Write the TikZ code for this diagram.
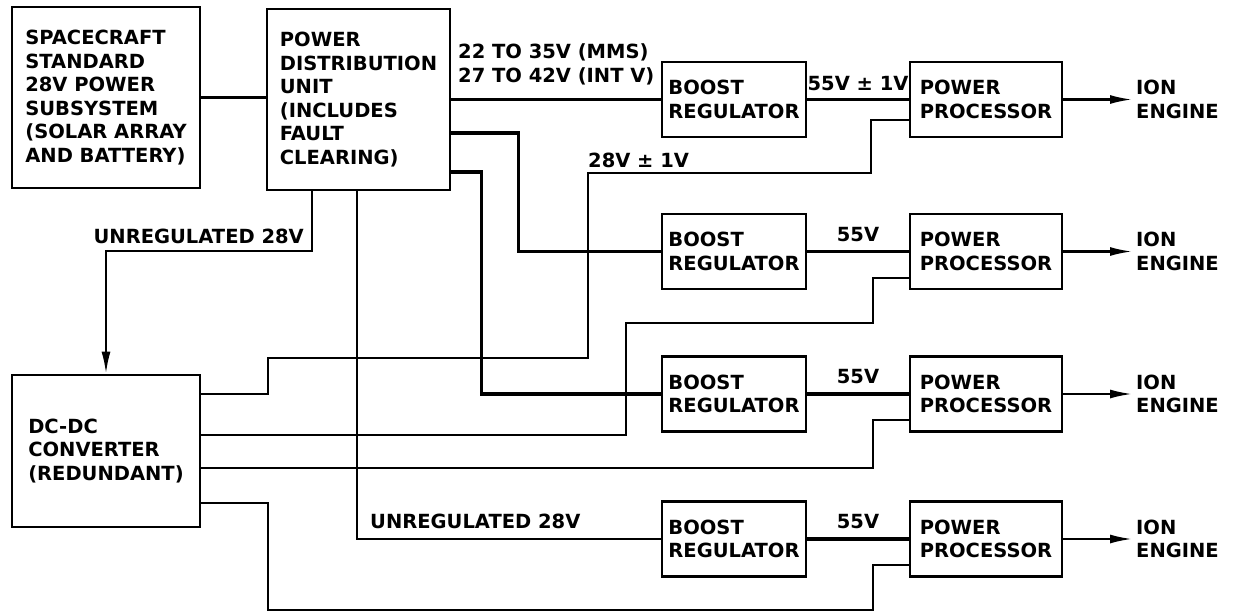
\documentclass[tikz,border=0pt]{standalone}
\usepackage{fontspec}
\setmainfont{DejaVu Sans}
\usetikzlibrary{arrows.meta,calc}
\begin{document}
\begin{tikzpicture}[x=1pt,y=-1pt,
  txt/.style={font=\fontsize{19.5}{23.5}\selectfont\bfseries},
  box/.style={txt,draw,line width=2.8pt,align=left,inner sep=0pt},
  lbl/.style={txt,inner sep=0pt,align=left},
  pwr/.style={line width=3.6pt},
  sig/.style={line width=2.1pt},
  arr/.style={line width=2.1pt,-{Latex[length=22pt,width=9pt]}}]
\useasboundingbox (0,0) rectangle (1240,613);
\fill[white] (0,0) rectangle (1240,613);

% main boxes
\node[box,minimum width=188pt,minimum height=181pt] (sc) at (106,97.5)
  {SPACECRAFT\\STANDARD\\28V POWER\\SUBSYSTEM\\(SOLAR ARRAY\\AND BATTERY)};
\node[box,minimum width=183pt,minimum height=181pt] (pdu) at (358.5,99.5)
  {POWER\\DISTRIBUTION\\UNIT\\(INCLUDES\\FAULT\\CLEARING)};
\node[box,minimum width=188pt,minimum height=152pt] (dc) at (106,451)
  {DC-DC\\CONVERTER\\(REDUNDANT)};

% rows of boost regulator, power processor, ion engine
\foreach \i/\y in {1/99.5,2/251.5,3/394,4/539}{
  \node[box,minimum width=144pt,minimum height=75pt] (br\i) at (734,\y) {BOOST\\REGULATOR};
  \node[box,minimum width=152pt,minimum height=75pt] (pp\i) at (986,\y) {POWER\\PROCESSOR};
  \node[lbl,anchor=west,inner xsep=4pt] (ie\i) at (1132,\y) {ION\\ENGINE};
  \draw[arr] (pp\i) -- (ie\i);
}

% boost regulator to power processor
\draw[pwr] (br1) -- node[lbl,above=7pt] (l55a) {55V ± 1V} (pp1);
\draw[pwr] (br2) -- node[lbl,above=8pt] (l55b) {55V} (pp2);
\draw[pwr] (br3) -- node[lbl,above=8pt] (l55c) {55V} (pp3);
\draw[pwr] (br4) -- node[lbl,above=8pt] (l55d) {55V} (pp4);

% spacecraft to PDU
\draw[sig] (sc.east) -- (sc.east -| pdu.west);

% PDU power outputs
\draw[pwr] (pdu.east |- br1.west) -- (br1.west);
\node[lbl,anchor=south west] (vin) at (458,85) {22 TO 35V (MMS)\\27 TO 42V (INT V)};
\draw[pwr] ($(pdu.east)+(0,33.5)$) -| ($(br2.west)+(-142,0)$) -- (br2.west);
\draw[pwr] ($(pdu.east)+(0,72.5)$) -| ($(br3.west)+(-179,0)$) -- (br3.west);

% PDU unregulated lines
\draw[arr] ($(pdu.south)+(-46.5,0)$) |- ($(dc.north)+(0,-123)$) -- (dc.north);
\node[lbl,anchor=base east] (u1) at (304,243) {UNREGULATED 28V};
\draw[sig] ($(pdu.south)+(-1.5,0)$) |- (br4.west);
\node[lbl,anchor=base west] (u2) at (370,528) {UNREGULATED 28V};

% DC-DC converter outputs
\draw[sig] ($(dc.east)+(0,-57)$) -- ++(67,0) -- ++(0,-36) -- ++(320,0) -- ++(0,-185)
  -- ++(283,0) |- ($(pp1.west)+(0,20.5)$);
\node[lbl,anchor=base west] (l28) at (588,167) {28V ± 1V};
\draw[sig] ($(dc.east)+(0,-16)$) -- ++(425,0) -- ++(0,-112) -- ++(247,0)
  |- ($(pp2.west)+(0,26.5)$);
\draw[sig] ($(dc.east)+(0,17)$) -- ++(672,0) |- ($(pp3.west)+(0,26)$);
\draw[sig] ($(dc.east)+(0,52)$) -- ++(67,0) -- ++(0,107) -- ++(605,0)
  |- ($(pp4.west)+(0,26)$);
\end{tikzpicture}
\end{document}
